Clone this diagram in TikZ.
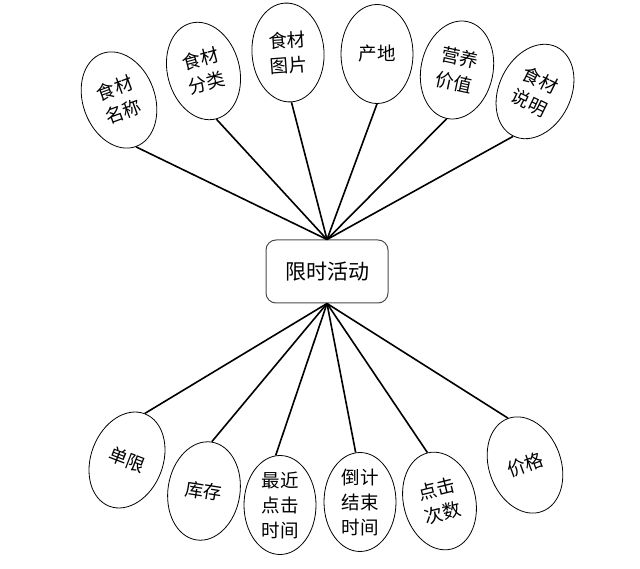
\documentclass[tikz,border=0pt]{standalone}
\usepackage{fontspec}
\newfontfamily\cjk{Noto Sans CJK SC}
\usetikzlibrary{shapes.geometric}
\begin{document}
\begin{tikzpicture}[x=1pt,y=1pt,
  attr/.style={ellipse, draw=black, line width=0.8pt, minimum width=72pt, minimum height=99pt, inner sep=0pt, align=center, font=\cjk\fontsize{18.5}{25}\selectfont},
  hub/.style={rectangle, rounded corners=10pt, draw=black!70, line width=1pt, minimum width=122pt, minimum height=63pt, font=\cjk\fontsize{21}{24}\selectfont},
  link/.style={line width=1.6pt}]
\useasboundingbox (0,0) rectangle (640,568);
\node[hub] (hub) at (327,296.5) {限时活动};
% top attributes
\node[attr, rotate=20]  (e1) at (119,468)   {食材\\名称};
\node[attr, rotate=15]  (e2) at (203.5,497) {食材\\分类};
\node[attr, rotate=4]   (e3) at (288,515.5) {食材\\图片};
\node[attr]             (e4) at (377,514)   {产地};
\node[attr, rotate=-12] (e5) at (457,498)   {营养\\价值};
\node[attr, rotate=-26] (e6) at (535,476.5) {食材\\说明};
% bottom attributes
\node[attr, rotate=-21] (e7) at (127,108)   {单限};
\node[attr, rotate=-9]  (e8) at (204,77)    {库存};
\node[attr]             (e9) at (280,63)    {最近\\点击\\时间};
\node[attr]             (e10) at (360,66)   {倒计\\结束\\时间};
\node[attr, rotate=14]  (e11) at (439.5,67) {点击\\次数};
\node[attr, rotate=20]  (e12) at (525,103)  {价格};
% connectors
\foreach \e in {e1,e2,e3,e4,e5,e6}
  \draw[link] (hub.north) -- (\e.south);
\foreach \e in {e7,e8,e11,e12}
  \draw[link] (hub.south) -- (\e.north);
\draw[link] (hub.south) -- (e9.95);
\draw[link] (hub.south) -- (e10.95);
\end{tikzpicture}
\end{document}
